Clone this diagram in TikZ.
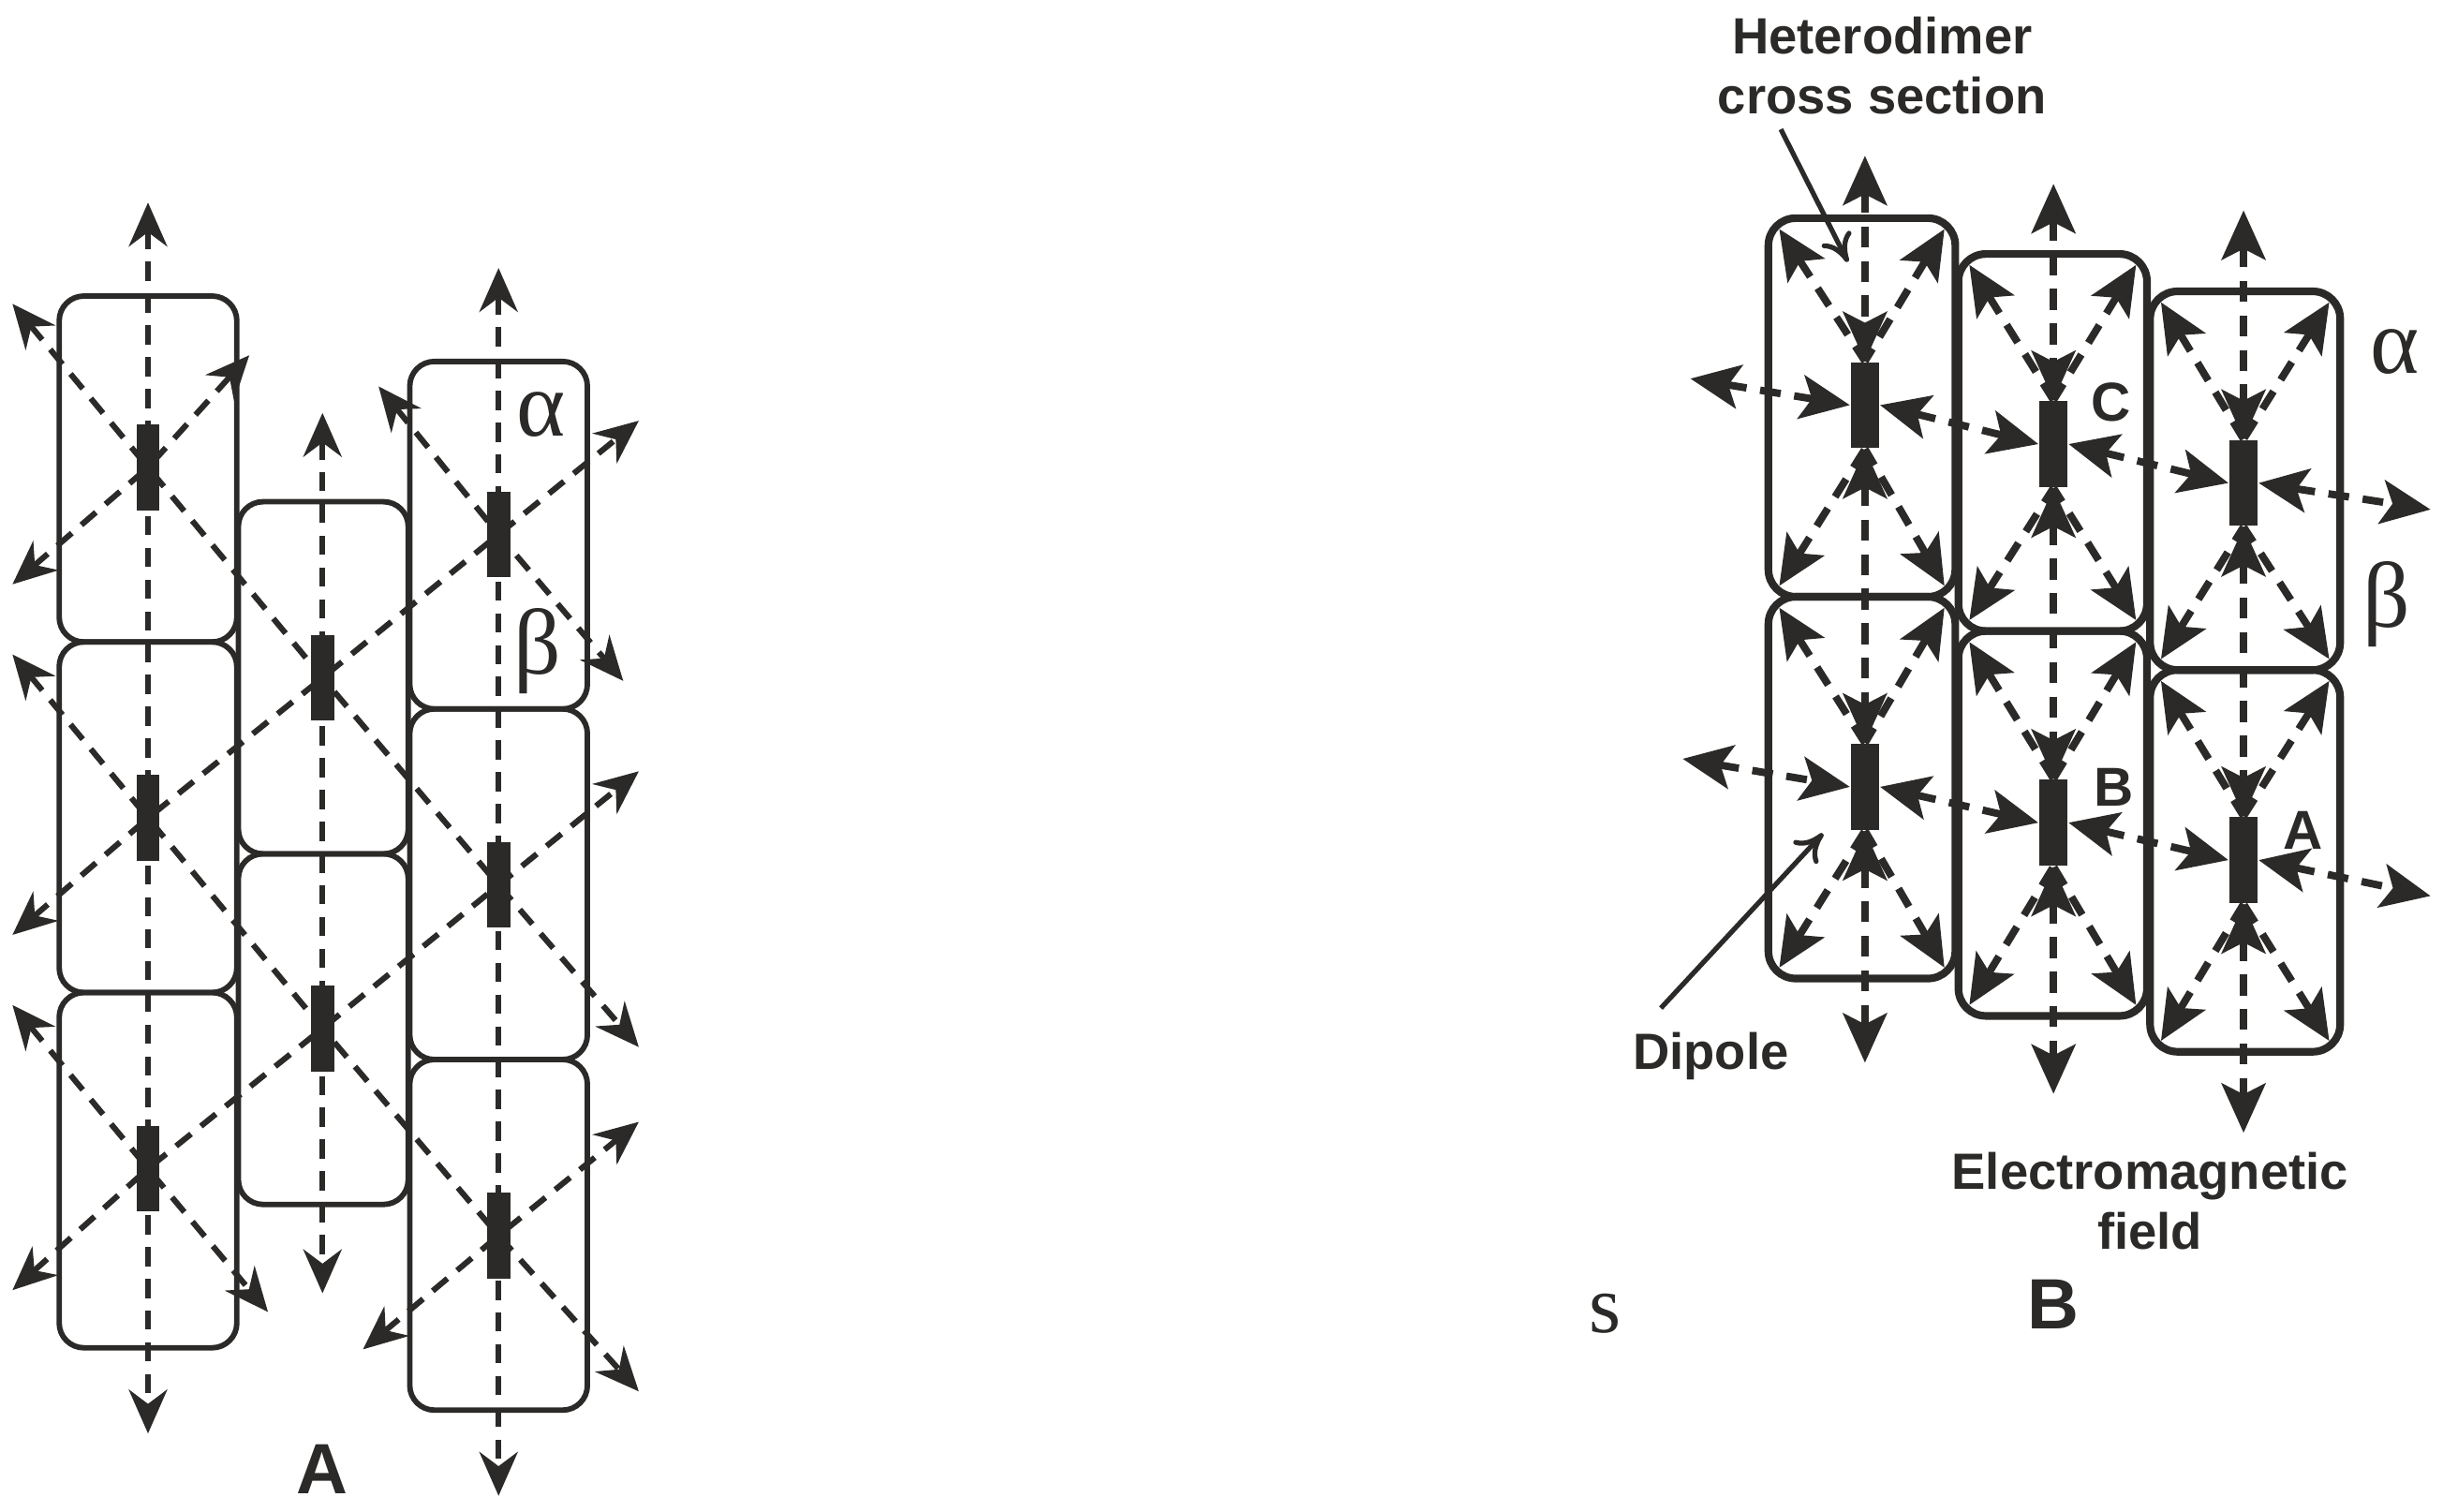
\documentclass[tikz,border=0pt]{standalone}
\usepackage{fontspec}
\newfontfamily\sansf{Liberation Sans}
\newfontfamily\serf{Liberation Serif}
\usetikzlibrary{arrows.meta}
\definecolor{ink}{HTML}{2B2A28}
\begin{document}
\begin{tikzpicture}[x=0.01cm,y=-0.01cm,
  boxA/.style={draw=ink,line width=1pt,rounded corners=4.5pt},
  boxB/.style={draw=ink,line width=1.4pt,rounded corners=5pt},
  dipA/.style={fill=ink,inner sep=0pt,minimum width=0.15cm,minimum height=0.55cm},
  dipB/.style={fill=ink,inner sep=0pt,minimum width=0.18cm,minimum height=0.55cm},
  flA/.style={draw=ink,line width=1.05pt,dash pattern=on 3.5pt off 2.3pt,{Stealth[length=8pt,width=7pt]}-{Stealth[length=8pt,width=7pt]}},
  tipB/.tip={Stealth[length=9pt,width=8pt,inset=2pt]},
  flB/.style={draw=ink,line width=1.35pt,dash pattern=on 3.8pt off 2.5pt,tipB-tipB},
  dgB/.style={draw=ink,line width=1.35pt,dash pattern=on 3.8pt off 2.5pt,tipB-},
  lab/.style={font=\sansf\bfseries\fontsize{9.3}{11}\selectfont,text=ink,align=center},
  big/.style={font=\sansf\bfseries\fontsize{13}{15}\selectfont,text=ink},
  gr/.style={font=\serf\fontsize{17}{19}\selectfont,text=ink}]
\useasboundingbox (0,0) rectangle (1568,970);
% ---------- Panel A ----------
\draw[boxA] (38,190) rectangle (152,412);
\draw[boxA] (38,412) rectangle (152,637);
\draw[boxA] (38,637) rectangle (152,865);
\draw[boxA] (153,322) rectangle (262,548);
\draw[boxA] (153,548) rectangle (262,773);
\draw[boxA] (263,232) rectangle (377,455);
\draw[boxA] (263,455) rectangle (377,680);
\draw[boxA] (263,680) rectangle (377,905);
\node[dipA] (a1) at (95,300) {};
\node[dipA] (a2) at (95,525) {};
\node[dipA] (a3) at (95,750) {};
\node[dipA] (m1) at (207,435) {};
\node[dipA] (m2) at (207,660) {};
\node[dipA] (r1) at (320,343) {};
\node[dipA] (r2) at (320,568) {};
\node[dipA] (r3) at (320,793) {};
\draw[flA] (95,130) -- (95,920);
\draw[flA] (207,265) -- (207,830);
\draw[flA] (320,172) -- (320,960);
\draw[flA] (8,195) -- (a1.center) -- (m1.center) -- (r2.center) -- (410,672);
\draw[flA] (8,420) -- (a2.center) -- (m2.center) -- (r3.center) -- (410,893);
\draw[flA] (8,645) -- (a3.center) -- (172,842);
\draw[flA] (243,248) -- (r1.center) -- (400,437);
\draw[flA] (8,375) -- (a1.center) -- (160,228);
\draw[flA] (8,600) -- (a2.center) -- (m1.center) -- (r1.center) -- (410,270);
\draw[flA] (8,828) -- (a3.center) -- (m2.center) -- (r2.center) -- (410,495);
\draw[flA] (233,866) -- (r3.center) -- (410,720);
\node[gr] (alA) at (347,266) {α};
\node[gr] (beA) at (345,418) {β};
\node[big] (capA) at (207,943) {A};
\node[font=\serf\fontsize{15}{17}\selectfont,text=ink] (s) at (1030,843) {s};
% ---------- Panel B ----------
\draw[boxB] (1135,140) rectangle (1255,383);
\draw[boxB] (1135,383) rectangle (1255,628);
\draw[boxB] (1257,163) rectangle (1378,405);
\draw[boxB] (1257,405) rectangle (1378,652);
\draw[boxB] (1380,187) rectangle (1502,430);
\draw[boxB] (1380,430) rectangle (1502,675);
\node[dipB] (b1) at (1197,260) {};
\node[dipB] (b2) at (1197,505) {};
\node[dipB] (c1) at (1318,285) {};
\node[dipB] (c2) at (1318,528) {};
\node[dipB] (d1) at (1440,310) {};
\node[dipB] (d2) at (1440,552) {};
% diagonals to corners
\foreach \d/\l/\t/\r/\b in {b1/1135/140/1255/383, b2/1135/383/1255/628, c1/1257/163/1378/405, c2/1257/405/1378/652, d1/1380/187/1502/430, d2/1380/430/1502/675}{
  \draw[dgB] (\l+7,\t+7) -- (\d.north);
  \draw[dgB] (\r-7,\t+7) -- (\d.north);
  \draw[dgB] (\l+7,\b-7) -- (\d.south);
  \draw[dgB] (\r-7,\b-7) -- (\d.south);
}
% verticals
\draw[flB] (1197,100) -- (b1.north);
\draw[flB] (b1.south) -- (b2.north);
\draw[flB] (b2.south) -- (1197,682);
\draw[flB] (1318,118) -- (c1.north);
\draw[flB] (c1.south) -- (c2.north);
\draw[flB] (c2.south) -- (1318,702);
\draw[flB] (1440,135) -- (d1.north);
\draw[flB] (d1.south) -- (d2.north);
\draw[flB] (d2.south) -- (1440,727);
% horizontals
\draw[flB] (1085,243) -- (b1.west);
\draw[flB] (b1.east) -- (c1.west);
\draw[flB] (c1.east) -- (d1.west);
\draw[flB] (d1.east) -- (1560,327);
\draw[flB] (1080,487) -- (b2.west);
\draw[flB] (b2.east) -- (c2.west);
\draw[flB] (c2.east) -- (d2.west);
\draw[flB] (d2.east) -- (1560,575);
% labels
\node[lab] (het) at (1208,42) {Heterodimer\\cross section};
\draw[ink,line width=0.9pt,-{To[length=5pt,width=6pt]}] (1143,83) -- (1186,168);
\node[lab] (dip) at (1098,678) {Dipole};
\draw[ink,line width=0.9pt,-{To[length=5pt,width=6pt]}] (1066,647) -- (1170,535);
\node[lab] (emf) at (1380,771) {Electromagnetic\\field};
\node[big] (capB) at (1318,837) {B};
\node[lab,font=\sansf\bfseries\fontsize{10}{12}\selectfont] (lc) at (1355,258) {C};
\node[lab,font=\sansf\bfseries\fontsize{10}{12}\selectfont] (lb) at (1357,505) {B};
\node[lab,font=\sansf\bfseries\fontsize{10}{12}\selectfont] (la) at (1478,533) {A};
\node[gr] (alB) at (1537,226) {α};
\node[gr] (beB) at (1532,388) {β};
\end{tikzpicture}
\end{document}
